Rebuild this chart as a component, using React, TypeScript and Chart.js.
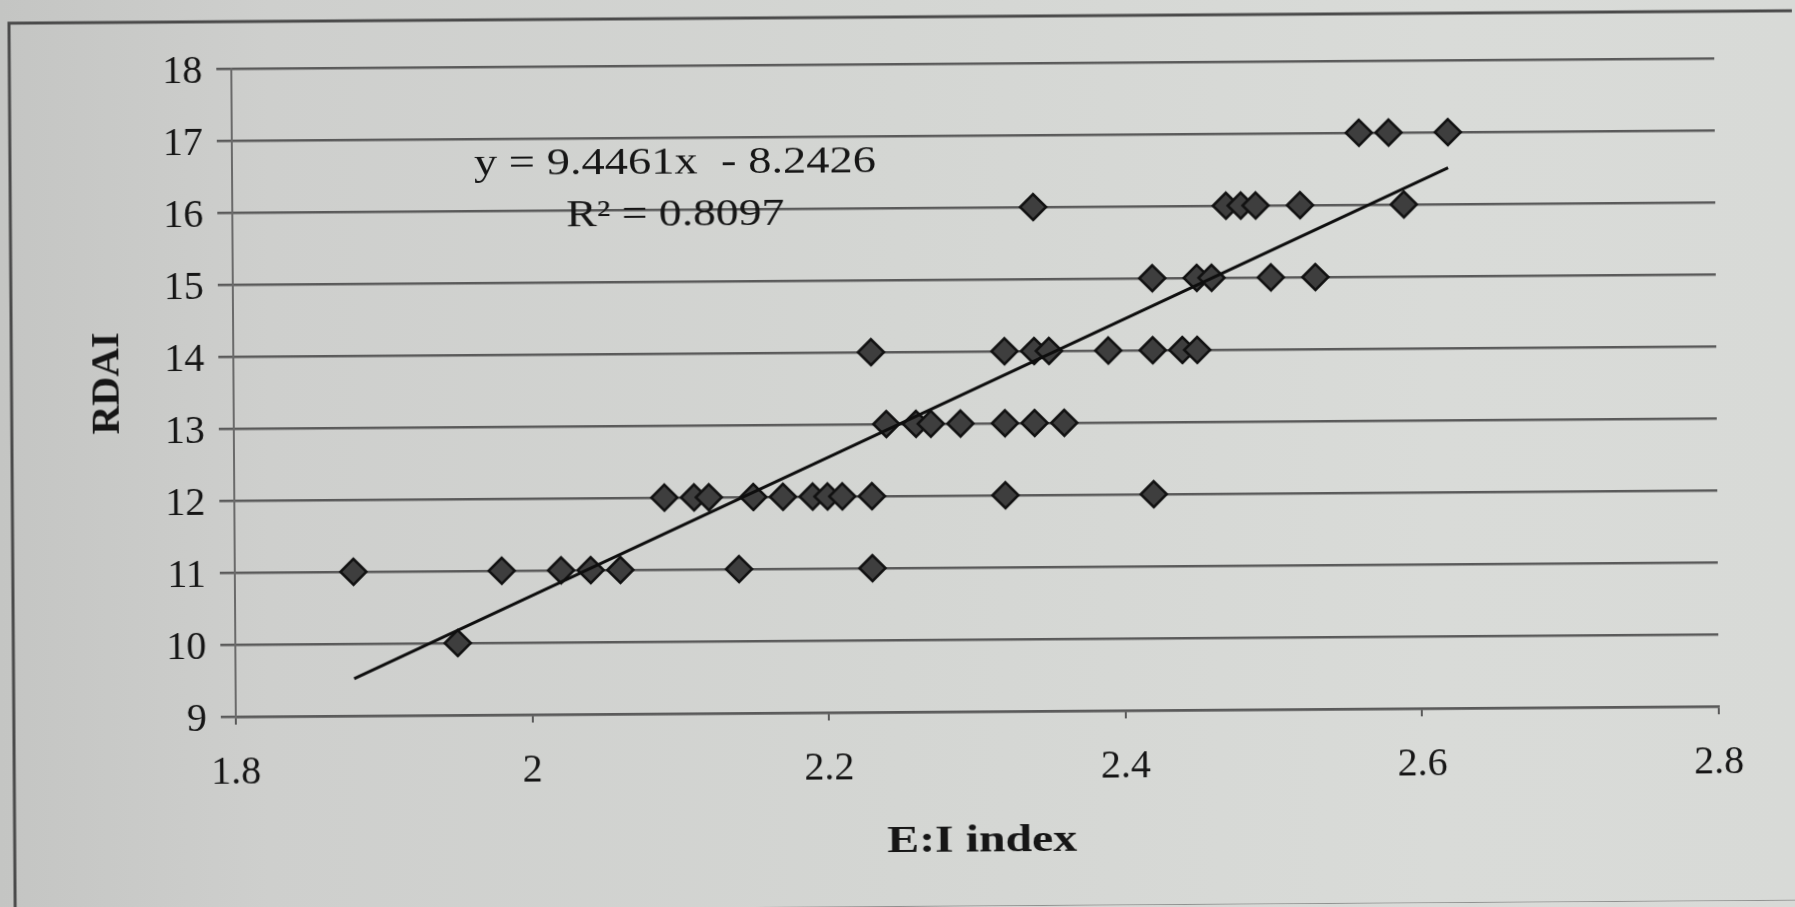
import { useEffect, useRef } from "react";
import { Chart, registerables } from "chart.js";

Chart.register(...registerables);

// E:I index (x) and RDAI score (y) for each subject
const eiIndex = [
  1.95,
  1.88, 1.98, 2.02, 2.04, 2.06, 2.14, 2.23,
  2.09, 2.11, 2.12, 2.15, 2.17, 2.19, 2.2, 2.21, 2.23, 2.32, 2.42,
  2.24, 2.26, 2.27, 2.29, 2.32, 2.34, 2.36,
  2.23, 2.32, 2.34, 2.35, 2.39, 2.42, 2.44, 2.45,
  2.42, 2.45, 2.46, 2.5, 2.53,
  2.34, 2.47, 2.48, 2.49, 2.52, 2.59,
  2.56, 2.58, 2.62,
];
const rdai = [
  10,
  11, 11, 11, 11, 11, 11, 11,
  12, 12, 12, 12, 12, 12, 12, 12, 12, 12, 12,
  13, 13, 13, 13, 13, 13, 13,
  14, 14, 14, 14, 14, 14, 14, 14,
  15, 15, 15, 15, 15,
  16, 16, 16, 16, 16, 16,
  17, 17, 17,
];

const xTickValues = [1.8, 2, 2.2, 2.4, 2.6, 2.8];
const xTickLabels = ["1.8", "2", "2.2", "2.4", "2.6", "2.8"];
const yTickValues = [9, 10, 11, 12, 13, 14, 15, 16, 17, 18];
const yTickLabels = ["9", "10", "11", "12", "13", "14", "15", "16", "17", "18"];

// Linear trend line reported for the fit
const trendSlope = 9.4461;
const trendIntercept = -8.2426;
const rSquared = 0.8097;

const xAxisTitle = "E:I index";
const yAxisTitle = "RDAI";

const W = 1795;
const H = 907;
const AREA = { left: 234, right: 1717, top: 64, bottom: 712 };
const Y_TICK_LEN = 15;
const X_TICK_LEN = 8;
const INK = "#161616";
const GRID = "#5a5a5a";
const SERIF = '"Liberation Serif"';

function stretchedText(
  ctx: CanvasRenderingContext2D,
  text: string,
  cx: number,
  baseline: number,
  width: number
) {
  const w = ctx.measureText(text).width;
  ctx.save();
  ctx.translate(cx, baseline);
  ctx.scale(width / w, 1);
  ctx.textAlign = "center";
  ctx.textBaseline = "alphabetic";
  ctx.fillText(text, 0, 0);
  ctx.restore();
}

const framePlugin = {
  id: "frame",
  beforeDraw(chart: Chart) {
    const ctx = chart.ctx;
    ctx.save();
    ctx.strokeStyle = "#4a4a4a";
    ctx.lineWidth = 3;
    ctx.beginPath();
    ctx.moveTo(12, H + 4);
    ctx.lineTo(12, 17);
    ctx.lineTo(W + 10, 17);
    ctx.moveTo(0, H + 1);
    ctx.lineTo(W + 10, H + 1);
    ctx.stroke();
    ctx.restore();
  },
};

const textPlugin = {
  id: "axisText",
  afterDraw(chart: Chart) {
    const ctx = chart.ctx;
    const xs = chart.scales.x;
    const ys = chart.scales.y;
    ctx.save();
    ctx.fillStyle = INK;

    // y tick labels
    ctx.font = `40px ${SERIF}`;
    ctx.textAlign = "right";
    ctx.textBaseline = "alphabetic";
    yTickValues.forEach((v, i) => {
      ctx.fillText(yTickLabels[i], xs.left - 29, ys.getPixelForValue(v) + 14);
    });

    // x tick labels
    ctx.textAlign = "center";
    xTickValues.forEach((v, i) => {
      ctx.fillText(xTickLabels[i], xs.getPixelForValue(v), ys.bottom + 67);
    });

    // axis titles
    ctx.font = `bold 38px ${SERIF}`;
    stretchedText(ctx, xAxisTitle, (xs.left + xs.right) / 2 + 4, ys.bottom + 140, 190);

    ctx.save();
    ctx.font = `bold 40px ${SERIF}`;
    ctx.translate(119, 378);
    ctx.rotate(-Math.PI / 2);
    ctx.textAlign = "center";
    ctx.fillText(yAxisTitle, 0, 0);
    ctx.restore();

    // trend line equation
    ctx.font = `38px ${SERIF}`;
    const sign = trendIntercept < 0 ? "-" : "+";
    const eq = `y = ${trendSlope}x  ${sign} ${Math.abs(trendIntercept)}`;
    stretchedText(ctx, eq, 677, 172, 402);
    stretchedText(ctx, `R\u00B2 = ${rSquared}`, 677, 224, 218);

    ctx.restore();
  },
};

export default function App() {
  const canvasRef = useRef<HTMLCanvasElement | null>(null);

  useEffect(() => {
    const canvas = canvasRef.current;
    if (!canvas) return;
    let chart: Chart | null = null;
    let cancelled = false;

    const points = eiIndex.map((x, i) => ({ x, y: rdai[i] }));
    const xMin = Math.min(...eiIndex);
    const xMax = Math.max(...eiIndex);
    const trend = [
      { x: xMin, y: trendSlope * xMin + trendIntercept },
      { x: xMax, y: trendSlope * xMax + trendIntercept },
    ];

    const build = () => {
      if (cancelled) return;
      chart = new Chart(canvas, {
        type: "scatter",
        data: {
          datasets: [
            {
              label: "Linear (RDAI)",
              data: trend,
              showLine: true,
              borderColor: "#0e0e0e",
              borderWidth: 3,
              pointRadius: 0,
              fill: false,
            },
            {
              label: "RDAI",
              data: points,
              pointStyle: "rectRot",
              pointRadius: 13,
              pointBackgroundColor: "#3e3e3e",
              pointBorderColor: "#111111",
              pointBorderWidth: 2.5,
              showLine: false,
            },
          ],
        },
        options: {
          responsive: false,
          animation: false,
          events: [],
          layout: {
            padding: {
              left: AREA.left - Y_TICK_LEN,
              right: W - AREA.right,
              top: AREA.top,
              bottom: H - AREA.bottom - X_TICK_LEN,
            },
          },
          plugins: {
            legend: { display: false },
            tooltip: { enabled: false },
          },
          scales: {
            x: {
              type: "linear",
              min: 1.8,
              max: 2.8,
              ticks: { display: false, stepSize: 0.2 },
              grid: {
                drawOnChartArea: false,
                drawTicks: true,
                tickLength: X_TICK_LEN,
                color: GRID,
                lineWidth: 2,
              },
              border: { display: true, color: GRID, width: 2.5 },
            },
            y: {
              type: "linear",
              min: 9,
              max: 18,
              ticks: { display: false, stepSize: 1 },
              grid: {
                drawTicks: true,
                tickLength: Y_TICK_LEN,
                color: GRID,
                lineWidth: 2.5,
              },
              border: { display: true, color: "#6a6a6a", width: 2 },
            },
          },
        },
        plugins: [framePlugin, textPlugin],
      });
    };

    const fonts = (document as any).fonts;
    if (fonts && fonts.load) {
      Promise.all([
        fonts.load(`40px ${SERIF}`),
        fonts.load(`bold 40px ${SERIF}`),
      ])
        .catch(() => undefined)
        .then(build);
    } else {
      build();
    }

    return () => {
      cancelled = true;
      if (chart) chart.destroy();
    };
  }, []);

  return (
    <div
      style={{
        position: "fixed",
        left: 0,
        top: 0,
        width: W,
        height: H,
        overflow: "hidden",
        background:
          "linear-gradient(to right, #c4c5c3 0%, #cecfcd 15%, #d4d6d3 50%, #d9dbd8 80%, #d8dad7 100%)",
      }}
    >
      <canvas
        ref={canvasRef}
        width={W}
        height={H}
        style={{
          display: "block",
          width: W,
          height: H,
          transform: "rotate(-0.4deg)",
          transformOrigin: "50% 50%",
        }}
      />
    </div>
  );
}
